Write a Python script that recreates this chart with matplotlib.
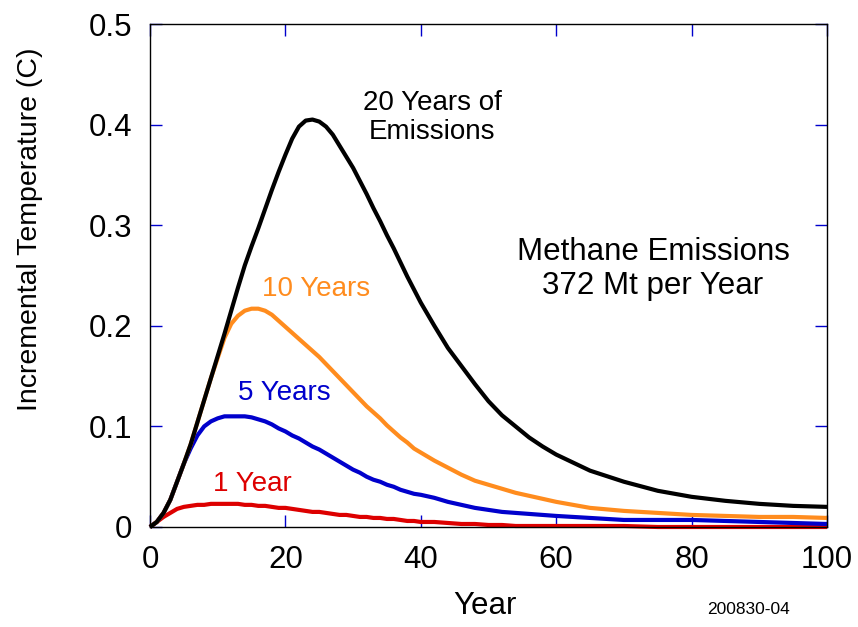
import matplotlib
matplotlib.use("Agg")
import matplotlib.pyplot as plt

# ---------------------------------------------------------------------------
# Data
# ---------------------------------------------------------------------------

YEARS = list(range(0, 41)) + list(range(42, 61, 2)) + list(range(65, 101, 5))

TEMP_20YR = [
    0.000, 0.005, 0.014, 0.027, 0.045, 0.063, 0.082, 0.104, 0.126, 0.148,
    0.170, 0.192, 0.215, 0.238, 0.260, 0.279, 0.297, 0.316, 0.335, 0.353,
    0.370, 0.386, 0.398, 0.404, 0.405, 0.403, 0.398, 0.390, 0.379, 0.368,
    0.357, 0.344, 0.331, 0.317, 0.304, 0.290, 0.277, 0.263, 0.249, 0.236,
    0.223,
    0.200, 0.178, 0.160, 0.142, 0.125, 0.111, 0.100, 0.089, 0.080, 0.072,
    0.056, 0.045, 0.036, 0.030, 0.026, 0.023, 0.021, 0.020,
]

TEMP_10YR = [
    0.000, 0.005, 0.014, 0.027, 0.045, 0.063, 0.082, 0.104, 0.126, 0.148,
    0.168, 0.188, 0.202, 0.210, 0.215, 0.217, 0.217, 0.215, 0.211, 0.205,
    0.199, 0.193, 0.187, 0.181, 0.175, 0.169, 0.162, 0.155, 0.148, 0.141,
    0.134, 0.127, 0.120, 0.114, 0.108, 0.101, 0.095, 0.089, 0.084, 0.078,
    0.074,
    0.066, 0.059, 0.052, 0.046, 0.042, 0.038, 0.034, 0.031, 0.028, 0.025,
    0.019, 0.016, 0.014, 0.012, 0.011, 0.010, 0.010, 0.009,
]

TEMP_5YR = [
    0.000, 0.005, 0.014, 0.027, 0.045, 0.063, 0.078, 0.091, 0.100, 0.105,
    0.108, 0.110, 0.110, 0.110, 0.110, 0.109, 0.107, 0.105, 0.102, 0.098,
    0.095, 0.091, 0.088, 0.084, 0.080, 0.077, 0.073, 0.069, 0.065, 0.061,
    0.057, 0.054, 0.050, 0.047, 0.045, 0.042, 0.040, 0.037, 0.035, 0.033,
    0.032,
    0.029, 0.025, 0.022, 0.019, 0.017, 0.015, 0.014, 0.013, 0.012, 0.011,
    0.009, 0.007, 0.007, 0.007, 0.006, 0.005, 0.004, 0.003,
]

TEMP_1YR = [
    0.000, 0.005, 0.010, 0.014, 0.018, 0.020, 0.021, 0.022, 0.022, 0.023,
    0.023, 0.023, 0.023, 0.023, 0.022, 0.022, 0.021, 0.021, 0.020, 0.019,
    0.019, 0.018, 0.017, 0.016, 0.015, 0.015, 0.014, 0.013, 0.012, 0.012,
    0.011, 0.010, 0.010, 0.009, 0.009, 0.008, 0.008, 0.007, 0.006, 0.006,
    0.005,
    0.005, 0.004, 0.003, 0.003, 0.002, 0.002, 0.001, 0.001, 0.001, 0.001,
    0.001, 0.001, 0.000, 0.000, 0.000, 0.000, 0.000, 0.000,
]

X_TICKS = [0, 20, 40, 60, 80, 100]
Y_TICKS = [0, 0.1, 0.2, 0.3, 0.4, 0.5]
Y_TICK_LABELS = ["0", "0.1", "0.2", "0.3", "0.4", "0.5"]

BLACK = "#000000"
ORANGE = "#FF8C1E"
BLUE = "#0000CC"
RED = "#DD0000"

plt.rcParams["font.family"] = ["Liberation Sans", "DejaVu Sans"]

W, H = 858, 627
fig = plt.figure(figsize=(W / 100, H / 100), dpi=100)
ax = fig.add_axes([150 / W, 100 / H, 677 / W, 503 / H])

lw = 3.0
ax.plot(YEARS, TEMP_1YR, color=RED, lw=lw, clip_on=False, solid_capstyle="butt")
ax.plot(YEARS, TEMP_5YR, color=BLUE, lw=lw, clip_on=False, solid_capstyle="butt")
ax.plot(YEARS, TEMP_10YR, color=ORANGE, lw=lw, clip_on=False, solid_capstyle="butt")
ax.plot(YEARS, TEMP_20YR, color=BLACK, lw=lw, clip_on=False, solid_capstyle="butt")

ax.set_xlim(0, 100)
ax.set_ylim(0, 0.5)
ax.set_xticks(X_TICKS)
ax.set_yticks(Y_TICKS)
ax.set_yticklabels(Y_TICK_LABELS)
ax.tick_params(direction="in", length=8.5, width=1.0, color=BLUE,
               top=True, right=True, labelsize=22.5)
ax.tick_params(axis="x", pad=13)
ax.tick_params(axis="y", pad=13)
for sp in ax.spines.values():
    sp.set_linewidth(1.0)

# axis titles placed in figure pixels
fig.text(30 / W, 1 - 229 / H, "Incremental Temperature (C)", fontsize=20.5,
         rotation=90, ha="center", va="center")
fig.text(485 / W, 1 - 606 / H, "Year", fontsize=22.5, ha="center", va="center")

# curve labels
ax.text(41.7, 0.4066, "20 Years of\nEmissions", fontsize=20, ha="center",
        va="center", linespacing=1.15)
ax.text(74.3, 0.2565, "Methane Emissions\n372 Mt per Year", fontsize=22.5,
        ha="center", va="center", linespacing=1.15)
ax.text(24.5, 0.2366, "10 Years", fontsize=20, color=ORANGE, ha="center", va="center")
ax.text(19.8, 0.133, "5 Years", fontsize=20, color=BLUE, ha="center", va="center")
ax.text(15.1, 0.043, "1 Year", fontsize=20, color=RED, ha="center", va="center")

fig.text(748 / W, 1 - 609 / H, "200830-04", fontsize=12.5, ha="center", va="center")

fig.savefig("out.png", dpi=100)
